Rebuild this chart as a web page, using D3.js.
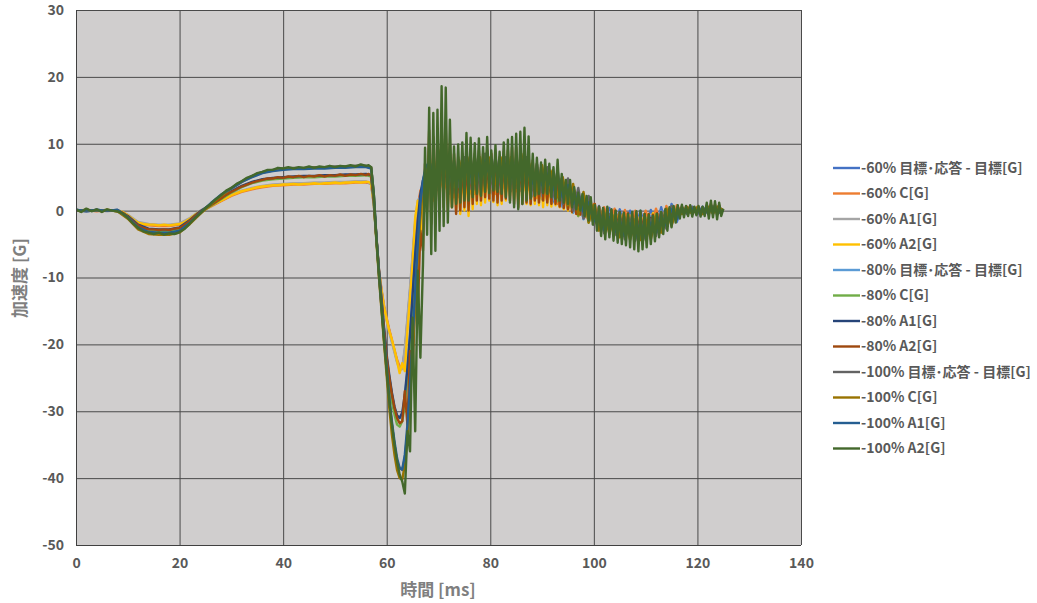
<!DOCTYPE html>
<html><head><meta charset="utf-8">
<script src="https://cdn.jsdelivr.net/npm/d3@7/dist/d3.min.js"></script>
<style>
html,body{margin:0;padding:0;background:#fff;}
svg{display:block;}
</style></head>
<body>
<svg id="chart" width="1037" height="603"></svg>
<script>
// ---------- DATA ----------
const xTicks = [0,20,40,60,80,100,120,140];
const yTicks = [30,20,10,0,-10,-20,-30,-40,-50];
const xTitle = "時間 [ms]";
const yTitle = "加速度 [G]";
const legendLabels = [
  "-60% 目標･応答 - 目標[G]","-60% C[G]","-60% A1[G]","-60% A2[G]",
  "-80% 目標･応答 - 目標[G]","-80% C[G]","-80% A1[G]","-80% A2[G]",
  "-100% 目標･応答 - 目標[G]","-100% C[G]","-100% A1[G]","-100% A2[G]"
];

// sample times (ms)
const timeFine = [
0,1,2,3,4,5,6,7,8,9,10,11,12,13,14,15,16,17,18,19,20,21,22,23,24,25,26,27,28,29,30,31,32,33,34,35,36,37,38,39,40,41,42,43,44,45,46,47,48,49,50,51,52,53,54,55,56,
56.5,57,57.5,58,58.5,59,59.5,60,60.5,61,61.5,62,62.5,63,63.5,64,64.5,65,65.5,66,66.5,67,
67.4,67.8,68.2,68.6,69.0,69.4,69.8,70.2,70.6,71.0,
71.4,71.8,72.2,72.6,73.0,73.4,73.8,74.2,74.6,75.0,
75.4,75.8,76.2,76.6,77.0,77.4,77.8,78.2,78.6,79.0,
79.4,79.8,80.2,80.6,81.0,81.4,81.8,82.2,82.6,83.0,
83.4,83.8,84.2,84.6,85.0,85.4,85.8,86.2,86.6,87.0,
87.4,87.8,88.2,88.6,89.0,89.4,89.8,90.2,90.6,91.0,
91.4,91.8,92.2,92.6,93.0,93.4,93.8,94.2,94.6,95.0,
95.4,95.8,96.2,96.6,97.0,97.4,97.8,98.2,98.6,99.0,
99.4,99.8,100.2,100.6,101.0,101.4,101.8,102.2,102.6,103.0,
103.4,103.8,104.2,104.6,105.0,105.4,105.8,106.2,106.6,107.0,
107.4,107.8,108.2,108.6,109.0,109.4,109.8,110.2,110.6,111.0,
111.4,111.8,112.2,112.6,113.0,113.4,113.8,114.2,114.6,115.0,
115.4,115.8,116.2,116.6,117.0,117.4,117.8,118.2,118.6,119.0,
119.4,119.8,120.2,120.6,121.0,121.4,121.8,122.2,122.6,123.0,
123.4,123.8,124.2,124.6,125.0
];
const timeCoarse = [
0,2,4,6,8,10,12,14,16,18,20,22,24,26,28,30,32,34,36,38,40,42,44,46,48,50,52,54,56,
57,57.5,58,58.5,59,59.5,60,60.5,61,61.5,62,62.5,63,63.5,64,64.5,65,65.5,66,66.5,67,67.5,68,
69,70,71,72,73,74,75,76,77,78,79,80,81,82,83,84,85,86,87,88,89,90,91,92,93,94,95,96,97,98,
99,100,101,102,103,104,105,106,107,108,109,110,111,112,113,114,115,116,117,118,119,120,121,122,123,124,125
];

// -60 %
const n60Target = [
0.1,-0.1,0.1,0,0.1,-0.7,-1.8,-2.1,-2.2,-2.2,-2.0,-1.2,-0.1,0.7,1.5,2.3,2.9,3.3,3.6,3.8,3.9,4.0,4.0,4.1,4.1,4.2,4.2,4.3,4.3,
4.0,1.0,-4.0,-9.0,-12.0,-14.5,-16.3,-18.0,-19.5,-21.0,-22.5,-23.6,-23.4,-21.0,-16.5,-12.0,-7.0,-2.0,1.0,2.5,4.0,5.0,5.5,
4.5,3,6,2.5,5,2,5.5,2.5,5.5,2.5,
5.7,2.5,5.5,2.5,5.7,2.9,5.9,2.9,5.7,2.1,
4.9,1.7,4.5,1.2,4,0.5,3.2,-0.3,2.2,-1.2,
1.3,-2,0.7,-2.5,0.4,-2.7,0.2,-2.9,0,-3,
0,-3,0.1,-2.7,0.5,-2.3,1,-1.7,0.5,-0.4,
0.6,-0.4,0.6,-0.4,0.6,-0.4,0
];
const n60C = [
0,0.1,-0.1,0.1,0,-0.8,-1.9,-2.2,-2.3,-2.3,-2.1,-1.3,-0.2,0.6,1.4,2.2,2.8,3.2,3.5,3.7,3.8,3.9,3.9,4.0,4.0,4.1,4.1,4.2,4.2,
4.1,1.2,-3.8,-8.8,-11.8,-14.3,-16.1,-17.8,-19.3,-20.8,-22.3,-23.3,-23.4,-21.5,-17.0,-12.5,-7.5,-2.5,0.5,3.0,3.5,5.5,5.0,
1.5,6,3,5.5,2,5,2.5,5.5,2.5,5.5,
2.7,5.5,2.5,5.5,2.7,5.9,2.9,5.9,2.7,5.1,
1.9,4.7,1.5,4.2,1,3.5,0.2,2.7,-0.8,1.8,
-1.7,1,-2.3,0.5,-2.6,0.3,-2.8,0.1,-3,0,
-3,0,-2.9,0.3,-2.5,0.7,-2,0.8,-0.4,0.6,
-0.4,0.6,-0.4,0.6,-0.4,0.6,0
];
const n60A1 = [
0.1,0,0.1,-0.1,0.1,-0.6,-1.7,-2.0,-2.1,-2.1,-1.9,-1.1,0,0.8,1.6,2.4,3.0,3.4,3.7,3.9,4.0,4.1,4.1,4.2,4.2,4.3,4.3,4.4,4.4,
4.0,0.8,-4.2,-9.2,-12.2,-14.7,-16.5,-18.2,-19.7,-21.2,-22.7,-23.8,-23.7,-20.5,-16.0,-11.5,-6.5,-1.5,1.5,2.0,4.5,4.5,6.0,
3.8,3.7,5.3,3.2,4.3,2.7,4.8,3.2,4.8,3.2,
5,3.2,4.8,3.2,5,3.6,5.2,3.6,5,2.8,
4.2,2.4,3.8,1.9,3.3,1.2,2.5,0.4,1.5,-0.5,
0.6,-1.3,0,-1.8,-0.3,-2,-0.5,-2.2,-0.7,-2.3,
-0.7,-2.3,-0.6,-2,-0.2,-1.6,0.3,-1,0.3,-0.2,
0.4,-0.2,0.4,-0.2,0.4,-0.2,0
];
const n60A2 = [
0.1,-0.1,0.1,0.0,0.1,-0.1,0.1,0.0,0.0,-0.2,
-0.7,-1.3,-1.8,-2.0,-2.1,-2.1,-2.2,-2.1,-2.2,-2.1,
-2.0,-1.7,-1.2,-0.6,-0.1,0.3,0.7,1.1,1.5,1.9,
2.3,2.6,2.9,3.1,3.3,3.5,3.6,3.7,3.8,3.8,
3.9,3.9,4.0,3.9,4.0,4.0,4.1,4.0,4.1,4.1,
4.2,4.1,4.2,4.2,4.3,4.2,4.3,
4.3,4.0,1.0,-4.0,-9.0,-12.0,-14.5,-16.3,-18.0,-19.3,-20.8,-22.5,-24.3,-22.8,-24.0,-18.0,-13.0,-8.0,-1.0,1.5,-4.0,3.5,
5.0,2.0,9.0,1.0,8.5,0.5,9.0,1.5,10.0,2.0,
9.5,1.0,8.0,0.5,7.5,0.0,7.0,-0.5,7.5,0.0,
7.0,-0.8,7.5,0.2,7.0,1.0,7.5,0.8,7.0,1.2,
7.5,1.5,7.0,1.3,7.2,0.8,7.0,1.0,7.5,1.5,
7.8,2.2,8.0,1.8,8.0,1.0,7.5,1.2,7.5,1.0,
7.0,0.8,6.5,1.0,6.0,0.8,5.5,0.5,5.5,0.8,
5.0,0.6,4.5,0.8,4.5,0.5,4.0,0.2,3.5,0.0,
3.0,-0.3,2.5,-0.5,2.0,-0.6,1.8,-0.8,1.5,-1.0,
1.2,-1.2,0.8,-1.5,0.5,-1.8,0.3,-2.0,0.2,-2.0,
0.0,-2.2,-0.2,-2.0,-0.3,-2.2,-0.4,-2.3,-0.5,-2.5,
-0.5,-2.4,-0.6,-2.6,-0.5,-2.5,-0.6,-2.3,-0.5,-2.0,
-0.4,-1.8,-0.5,-1.6,-0.3,-1.4,-0.1,-1.2,0.1,-1.0,
0.3,-0.6,0.4,-0.4,0.5,-0.3,0.5,-0.2,0.5,-0.3,
0.4,-0.2,0.5,-0.3,0.4,-0.2,0.5,-0.4,0.6,-0.3,
0.5,-0.4,0.4,-0.2,0.2
];

// -80 %
const n80Target = [
0.1,-0.1,0.1,0,0,-0.9,-2.2,-2.8,-2.9,-2.9,-2.6,-1.5,-0.2,0.8,1.8,2.8,3.6,4.2,4.6,4.8,4.9,5.0,5.1,5.1,5.2,5.2,5.3,5.3,5.4,
5.2,1.5,-4.0,-9.0,-13.5,-18.0,-22.0,-25.0,-27.5,-29.5,-30.8,-31.0,-30.5,-28.0,-24.0,-19.0,-13.0,-7.0,-2.0,2.0,4.0,5.5,6.0,
5.8,3.7,7.3,3.2,6.3,2.7,6.8,3.2,6.8,3.2,
7.1,3.2,6.8,3.2,7,3.4,7,3.5,6.8,2.4,
6,2.2,5.6,1.5,5,0.7,4,-0.3,2.8,-1.3,
1.8,-1.8,0,-2.7,-0.4,-3,-0.8,-3.4,-1.1,-3.6,
-1.1,-3.4,-0.8,-2.9,-0.1,-2.1,0.7,-0.7,0.5,-0.5,
0.5,-0.5,0.5,-0.4,0.6,-0.4,0
];
const n80C = [
0,0.1,0,0.1,-0.1,-1.0,-2.4,-3.0,-3.1,-3.1,-2.8,-1.6,-0.3,0.7,1.7,2.7,3.5,4.1,4.5,4.7,4.8,4.9,5.0,5.0,5.1,5.1,5.2,5.2,5.3,
5.1,1.3,-4.3,-9.5,-14.0,-18.5,-22.5,-25.8,-28.5,-30.5,-32.0,-32.3,-31.5,-29.0,-25.0,-20.0,-14.0,-8.0,-3.0,1.5,3.5,5.5,6.0,
2.2,7.3,3.7,6.8,2.7,6.3,3.2,6.8,3.2,6.8,
3.5,6.8,3.2,6.8,3.4,7,3.4,7.1,3.2,6,
2.4,5.8,2,5.1,1.4,4.3,0.4,3.3,-0.8,2.3,
-1.8,0.6,-2.4,-0.3,-2.8,-0.6,-3.2,-1,-3.5,-1.2,
-3.5,-1,-3.2,-0.5,-2.5,0.3,-1.7,0.4,-0.5,0.5,
-0.5,0.5,-0.5,0.6,-0.4,0.6,0
];
const n80A1 = [
0.1,0,0.1,0,0.1,-0.8,-2.1,-2.7,-2.8,-2.8,-2.5,-1.4,-0.1,0.9,1.9,2.9,3.7,4.3,4.7,4.9,5.0,5.1,5.2,5.2,5.3,5.3,5.4,5.4,5.5,
5.3,1.6,-3.8,-8.8,-13.2,-17.6,-21.6,-24.6,-27.2,-29.3,-30.6,-31.0,-30.2,-27.5,-23.5,-18.5,-12.5,-6.5,-1.5,2.5,4.5,6.0,6.5,
4.9,4.6,6.4,4.1,5.4,3.6,5.9,4.1,5.9,4.1,
6.2,4.1,5.9,4.1,6.1,4.3,6.1,4.4,5.9,3.3,
5.1,3.1,4.7,2.4,4.1,1.6,3.1,0.6,1.9,-0.4,
0.9,-1.5,-0.3,-2.4,-0.7,-2.7,-1.1,-3.1,-1.4,-3.3,
-1.4,-3.1,-1.1,-2.6,-0.4,-1.8,0.4,-0.8,0.3,-0.3,
0.3,-0.3,0.3,-0.2,0.4,-0.2,0
];
const n80A2 = [
0.1,-0.1,0.2,0.0,0.1,-0.1,0.1,0.0,-0.1,-0.3,
-0.9,-1.6,-2.2,-2.6,-2.8,-2.8,-2.9,-2.8,-2.9,-2.7,
-2.6,-2.1,-1.5,-0.8,-0.2,0.3,0.8,1.3,1.8,2.4,
2.8,3.2,3.6,3.9,4.2,4.4,4.6,4.8,4.8,5.0,
4.9,5.1,5.0,5.2,5.0,5.2,5.1,5.3,5.1,5.3,
5.2,5.4,5.2,5.4,5.3,5.5,5.3,
5.5,5.2,1.5,-4.0,-9.0,-13.5,-18.0,-22.0,-25.0,-27.5,-29.5,-31.0,-31.8,-31.5,-27.0,-32.0,-21.0,-24.0,-12.0,-15.0,-3.0,-6.0,
7.0,0.0,12.0,-2.0,11.0,-1.5,12.0,0.0,13.0,0.5,
12.5,0.0,10.0,0.5,8.5,-0.5,8.0,0.0,8.5,0.5,
9.0,0.0,9.0,1.0,8.5,1.5,9.0,1.5,8.5,2.0,
9.0,1.8,8.5,1.5,8.5,1.2,8.0,1.5,8.8,1.8,
9.0,1.5,9.5,1.0,9.5,0.5,9.0,1.0,9.5,1.2,
8.5,1.0,7.5,1.5,7.0,1.2,6.5,1.5,6.5,1.2,
6.0,1.0,5.5,1.0,5.5,0.6,4.8,0.4,4.0,0.2,
3.5,-0.2,3.0,-0.5,2.5,-0.6,2.0,-1.0,1.8,-1.2,
1.5,-1.6,1.0,-2.0,0.6,-2.4,0.4,-2.8,0.3,-2.8,
0.1,-3.0,0.0,-3.0,-0.2,-3.2,-0.3,-3.4,-0.4,-3.6,
-0.3,-3.6,-0.3,-3.8,-0.3,-3.6,-0.5,-3.4,-0.5,-3.0,
-0.6,-2.8,-0.4,-2.5,-0.2,-2.2,0.0,-1.8,0.3,-1.5,
0.5,-1.0,0.6,-0.7,0.7,-0.5,0.6,-0.4,0.7,-0.5,
0.5,-0.4,0.6,-0.5,0.5,-0.4,0.8,-0.6,1.0,-0.5,
0.9,-0.6,0.8,-0.4,0.2
];

// -100 %
const n100Target = [
0.1,-0.1,0.1,0,0,-1.1,-2.6,-3.3,-3.4,-3.4,-3.1,-1.9,-0.4,1.0,2.3,3.4,4.4,5.2,5.8,6.1,6.3,6.4,6.4,6.5,6.5,6.6,6.6,6.7,6.7,
6.5,2.5,-4.0,-9.5,-14.5,-19.5,-24.0,-28.5,-32.0,-35.0,-37.5,-38.5,-38.8,-37.0,-33.0,-27.0,-20.0,-13.0,-6.0,0.0,4.0,6.0,6.5,
7,5,9,4,7.5,3.5,8,4,8,4,
8.5,4,8,4,8,4,8,4.5,8,3,
7,2.8,6.5,2,6,1,4.8,0,3.4,-1.2,
2.2,-2.1,0,-3.4,-0.5,-3.7,-1,-4.3,-1.4,-4.5,
-1.4,-4.4,-1.3,-3.8,-0.3,-2.7,0.7,-0.8,0.5,-0.5,
0.5,-0.5,0.5,-0.4,0.6,-0.4,0
];
const n100C = [
0,0.1,0,0.1,-0.1,-1.2,-2.8,-3.5,-3.6,-3.6,-3.3,-2.0,-0.5,0.9,2.2,3.3,4.3,5.1,5.7,6.0,6.2,6.3,6.3,6.4,6.4,6.5,6.5,6.6,6.6,
6.4,2.2,-4.5,-10.0,-15.0,-20.0,-24.8,-29.5,-33.5,-36.5,-38.8,-40.0,-40.2,-38.0,-34.0,-28.0,-21.0,-14.0,-7.0,-1.0,3.5,6.0,6.5,
3,9,5,8,3.5,7.5,4,8,4,8,
4.5,8,4,8,4,8,4,8.5,4,7,
3,6.8,2.5,6,2,5,0.8,4,-0.6,2.8,
-1.8,0.9,-3,-0.4,-3.5,-0.7,-4,-1.3,-4.4,-1.5,
-4.4,-1.4,-4.3,-0.8,-3.3,0.3,-2.3,0.2,-0.5,0.5,
-0.5,0.5,-0.5,0.6,-0.4,0.6,0
];
const n100A1 = [
0.1,0,0.1,0,0.1,-1.0,-2.5,-3.2,-3.3,-3.3,-3.0,-1.8,-0.3,1.1,2.4,3.3,4.3,5.0,5.6,5.9,6.1,6.2,6.2,6.3,6.3,6.4,6.4,6.5,6.5,
6.3,2.6,-3.8,-9.2,-14.2,-19.0,-23.5,-28.0,-31.5,-34.5,-37.0,-38.5,-38.7,-36.5,-32.0,-26.0,-19.0,-12.0,-5.0,1.0,4.5,6.5,7.0,
6,6,8,5,6.5,4.5,7,5,7,5,
7.5,5,7,5,7,5,7,5.5,7,4,
6,3.8,5.5,3,5,2,3.8,1,2.4,-0.2,
1.2,-1.6,-0.5,-2.9,-1,-3.2,-1.5,-3.8,-1.9,-4,
-1.9,-3.9,-1.8,-3.3,-0.8,-2.2,0.2,-1.3,0.3,-0.3,
0.3,-0.3,0.3,-0.2,0.4,-0.2,0
];
const n100A2 = [
0.2,-0.2,0.3,-0.1,0.2,-0.2,0.2,0.0,-0.1,-0.4,
-1.1,-1.9,-2.6,-3.1,-3.3,-3.5,-3.3,-3.6,-3.4,-3.5,
-3.2,-2.7,-1.9,-1.1,-0.4,0.4,1.0,1.7,2.3,3.0,
3.4,4.0,4.4,4.9,5.2,5.6,5.8,6.1,6.1,6.4,
6.3,6.5,6.3,6.5,6.4,6.6,6.4,6.6,6.5,6.7,
6.5,6.7,6.6,6.8,6.6,6.9,6.7,
6.8,6.5,2.5,-4.0,-9.5,-14.5,-19.5,-24.0,-28.5,-32.0,-35.0,-37.5,-39.5,-40.5,-42.3,-33.0,-36.0,-16.0,-33.0,-9.0,-22.0,-8.0,
9.4,-3.6,15.4,-6.5,14.6,-6.0,15.1,-3.0,18.6,-2.3,
18.4,-1.8,13.6,0.5,9.6,1.0,9.9,1.2,10.2,1.5,
11.6,1.5,10.9,2.0,10.1,2.5,10.8,2.2,9.5,2.8,
11.0,2.6,9.0,3.0,9.8,2.8,8.8,2.5,10.2,2.0,
10.6,1.2,11.0,0.5,11.5,0.2,11.8,1.0,12.4,1.5,
11.1,1.8,8.5,2.2,7.9,2.5,7.2,2.6,7.6,2.5,
7.0,2.0,6.5,1.8,7.6,1.5,5.5,1.2,4.6,1.0,
4.6,0.5,3.5,0.2,2.7,0.0,2.5,-0.8,2.2,-1.5,
2.0,-2.1,0.8,-3.0,0.6,-3.8,0.4,-4.3,0.6,-4.0,
0.2,-4.5,0.0,-4.8,-0.2,-5.0,-0.3,-5.2,-0.5,-5.5,
-0.2,-5.8,-0.1,-6.1,0.0,-5.8,-0.5,-5.5,-0.6,-5.0,
-0.8,-4.6,-0.5,-4.0,-0.2,-3.5,0.2,-3.0,0.5,-2.5,
0.7,-1.8,0.8,-1.2,0.9,-1.0,0.7,-0.8,0.8,-0.9,
0.6,-0.7,0.7,-0.9,0.6,-0.8,1.2,-1.2,1.5,-1.0,
1.4,-1.3,1.2,-0.8,0.3
];

// ---------- STYLE ----------
const seriesColors = ["#4472C4","#ED7D31","#A5A5A5","#FFC000","#5B9BD5","#70AD47",
                      "#264478","#9E480E","#636363","#997300","#255E91","#43682B"];

const seriesTable = [
  {t: timeCoarse, v: n60Target}, {t: timeCoarse, v: n60C}, {t: timeCoarse, v: n60A1}, {t: timeFine, v: n60A2},
  {t: timeCoarse, v: n80Target}, {t: timeCoarse, v: n80C}, {t: timeCoarse, v: n80A1}, {t: timeFine, v: n80A2},
  {t: timeCoarse, v: n100Target}, {t: timeCoarse, v: n100C}, {t: timeCoarse, v: n100A1}, {t: timeFine, v: n100A2}
].map((s, i) => ({
  name: legendLabels[i],
  color: seriesColors[i],
  points: s.t.map((t, k) => [t, s.v[k]]).filter(p => p[1] !== undefined)
}));

// ---------- CHART ----------
const svg = d3.select("#chart");
const L = 76, R = 801, T = 10, B = 545;
const x = d3.scaleLinear().domain([0, 140]).range([L, R]);
const y = d3.scaleLinear().domain([-50, 30]).range([B, T]);
const labelColor = "#595959";
const font = "'Noto Sans CJK JP','Noto Sans',sans-serif";

svg.append("rect").attr("x", L).attr("y", T).attr("width", R - L).attr("height", B - T)
  .attr("fill", "#D0CECE");

// gridlines
svg.append("g").attr("transform", `translate(0,${B})`)
  .call(d3.axisBottom(x).tickValues(xTicks).tickSize(-(B - T)).tickFormat(""))
  .call(g => g.select(".domain").remove())
  .call(g => g.selectAll("line").attr("stroke", "#4a4a4a").attr("stroke-width", 1));
svg.append("g").attr("transform", `translate(${L},0)`)
  .call(d3.axisLeft(y).tickValues(yTicks).tickSize(-(R - L)).tickFormat(""))
  .call(g => g.select(".domain").remove())
  .call(g => g.selectAll("line").attr("stroke", "#4a4a4a").attr("stroke-width", 1));

// clip
svg.append("clipPath").attr("id", "clip").append("rect")
  .attr("x", L).attr("y", T).attr("width", R - L).attr("height", B - T);

const line = d3.line().x(d => x(d[0])).y(d => y(d[1]));
const gLines = svg.append("g").attr("clip-path", "url(#clip)");
seriesTable.forEach(s => {
  gLines.append("path").datum(s.points)
    .attr("d", line)
    .attr("fill", "none")
    .attr("stroke", s.color)
    .attr("stroke-width", 2.4)
    .attr("stroke-linejoin", "round");
});

// axis lines
svg.append("line").attr("x1", L).attr("x2", R).attr("y1", B + 0.5).attr("y2", B + 0.5)
  .attr("stroke", "#404040").attr("stroke-width", 1);
svg.append("line").attr("x1", L + 0.5).attr("x2", L + 0.5).attr("y1", T).attr("y2", B)
  .attr("stroke", "#404040").attr("stroke-width", 1);

// tick labels
const xAxis = svg.append("g").attr("transform", `translate(0,${B})`)
  .call(d3.axisBottom(x).tickValues(xTicks).tickSize(0).tickPadding(13).tickFormat(d => String(d)));
xAxis.select(".domain").remove();
xAxis.selectAll("text").attr("fill", labelColor).attr("font-size", 14).attr("font-weight", "bold")
  .attr("font-family", font);

const yAxis = svg.append("g").attr("transform", `translate(${L},0)`)
  .call(d3.axisLeft(y).tickValues(yTicks).tickSize(0).tickPadding(12).tickFormat(d => String(d)));
yAxis.select(".domain").remove();
yAxis.selectAll("text").attr("fill", labelColor).attr("font-size", 14).attr("font-weight", "bold")
  .attr("font-family", font);

// axis titles
svg.append("text").attr("x", 438).attr("y", 596).attr("text-anchor", "middle")
  .attr("fill", "#7f7f7f").attr("font-size", 17).attr("font-weight", "bold").attr("font-family", font)
  .text(xTitle);
svg.append("text").attr("transform", `translate(26,278) rotate(-90)`)
  .attr("text-anchor", "middle")
  .attr("fill", "#7f7f7f").attr("font-size", 17).attr("font-weight", "bold").attr("font-family", font)
  .text(yTitle);

// legend
const legend = svg.append("g");
seriesTable.forEach((s, i) => {
  const ly = 168 + i * 25.5;
  legend.append("line").attr("x1", 833).attr("x2", 860).attr("y1", ly).attr("y2", ly)
    .attr("stroke", s.color).attr("stroke-width", 2.4);
  legend.append("text").attr("x", 861).attr("y", ly).attr("dy", "0.35em")
    .attr("fill", labelColor).attr("font-size", 14).attr("font-weight", "bold")
    .attr("font-family", font).text(s.name);
});
</script>
</body></html>
